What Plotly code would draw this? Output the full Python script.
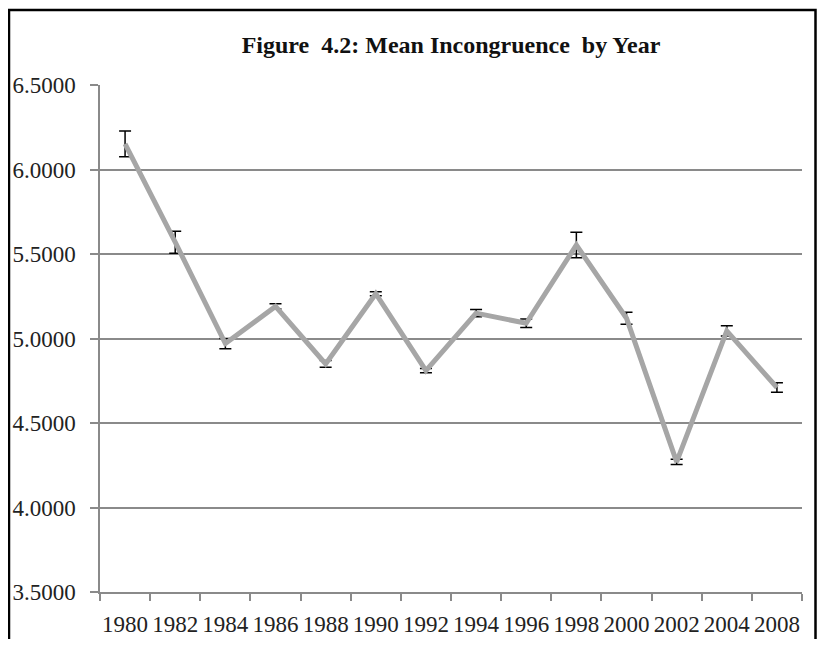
import plotly.graph_objects as go

# values
years = ["1980", "1982", "1984", "1986", "1988", "1990", "1992",
         "1994", "1996", "1998", "2000", "2002", "2004", "2008"]
mean_incongruence = [6.152, 5.57, 4.97, 5.19, 4.85, 5.265, 4.81,
                     5.15, 5.09, 5.553, 5.12, 4.27, 5.045, 4.71]
std_error = [0.076, 0.065, 0.03, 0.015, 0.02, 0.012, 0.012,
             0.022, 0.025, 0.075, 0.035, 0.015, 0.03, 0.028]

serif = "Times New Roman, Liberation Serif, serif"
grid_col = "#8a8a8a"

fig = go.Figure(
    go.Scatter(
        x=years,
        y=mean_incongruence,
        mode="lines",
        line=dict(color="#a6a6a6", width=5),
        error_y=dict(type="data", array=std_error, color="black",
                     thickness=1.5, width=6),
        hoverinfo="x+y",
        showlegend=False,
    )
)

# the page has an 8px body margin, so the figure is kept inside the window
# plot area in figure pixels: x 92..794, y 77..584
W, H = 809, 631
L, R, T, B = 92, 794, 77, 584


def px_x(px):
    return (px - L) / (R - L)


def px_y(py):
    return (B - py) / (B - T)


fig.update_layout(
    width=W,
    height=H,
    margin=dict(l=L, r=W - R, t=T, b=H - B, pad=0, autoexpand=False),
    paper_bgcolor="white",
    plot_bgcolor="white",
    font=dict(family=serif, size=23, color="#222222"),
    title=dict(
        text="<b>Figure  4.2: Mean Incongruence  by Year</b>",
        x=0.5,
        xanchor="center",
        xref="paper",
        y=1 - 37 / H,
        yref="container",
        yanchor="middle",
        font=dict(family=serif, size=24, color="#111111"),
    ),
    xaxis=dict(
        type="category",
        range=[-0.5, len(years) - 0.5],
        automargin=False,
        showgrid=False,
        showline=True,
        linecolor=grid_col,
        linewidth=1.5,
        ticks="outside",
        tickson="boundaries",
        ticklen=7,
        tickcolor=grid_col,
        tickwidth=1.5,
        tickangle=0,
        ticklabelstandoff=11,
        tickfont=dict(size=23),
    ),
    yaxis=dict(
        range=[3.5, 6.5],
        dtick=0.5,
        tickformat=".4f",
        automargin=False,
        showgrid=True,
        gridcolor=grid_col,
        gridwidth=1.5,
        zeroline=False,
        showline=True,
        linecolor=grid_col,
        linewidth=1.5,
        ticks="outside",
        ticklen=8,
        tickcolor=grid_col,
        tickwidth=1.5,
        ticklabelstandoff=10,
        tickfont=dict(size=23),
    ),
    shapes=[
        dict(
            type="rect",
            xref="paper",
            yref="paper",
            x0=px_x(1),
            x1=px_x(807.5),
            y0=px_y(660),
            y1=px_y(2),
            line=dict(color="black", width=2.5),
            fillcolor="rgba(0,0,0,0)",
            layer="above",
        )
    ],
)

fig.write_html("out.html")
